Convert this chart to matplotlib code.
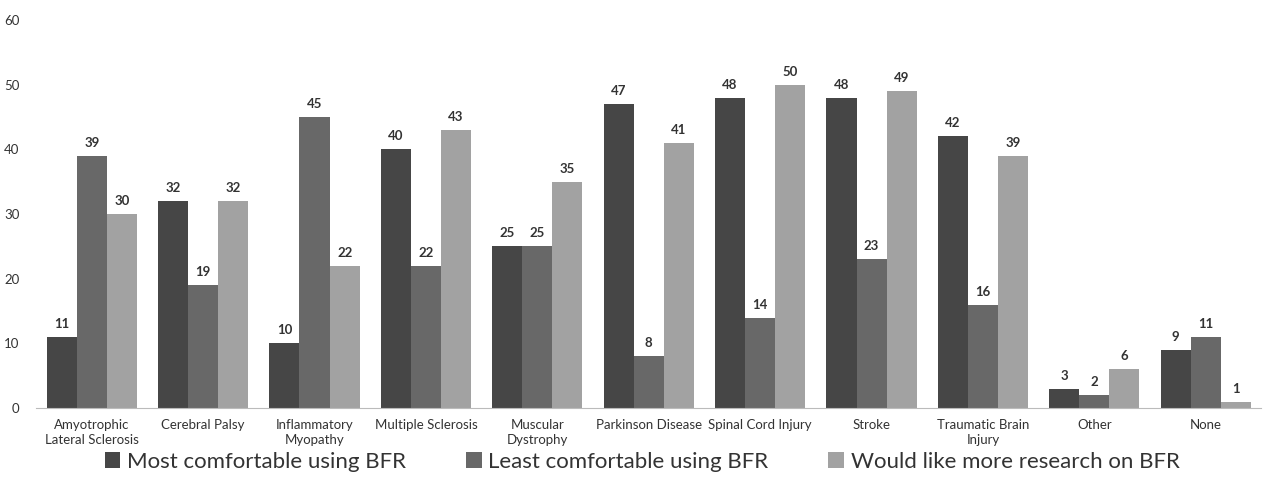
import matplotlib
matplotlib.use('Agg')
import matplotlib.pyplot as plt
import numpy as np

plt.rcParams['font.family'] = ['Lato', 'DejaVu Sans']

# data
categories = ['Amyotrophic\nLateral Sclerosis', 'Cerebral Palsy', 'Inflammatory\nMyopathy',
              'Multiple Sclerosis', 'Muscular\nDystrophy', 'Parkinson Disease',
              'Spinal Cord Injury', 'Stroke', 'Traumatic Brain\nInjury', 'Other', 'None']
most_comfortable = [11, 32, 10, 40, 25, 47, 48, 48, 42, 3, 9]
least_comfortable = [39, 19, 45, 22, 25, 8, 14, 23, 16, 2, 11]
more_research = [30, 32, 22, 43, 35, 41, 50, 49, 39, 6, 1]
series_names = ['Most comfortable using BFR', 'Least comfortable using BFR',
                'Would like more research on BFR']

COLORS = ['#464646', '#686868', '#a2a2a2']
BAR_W = 0.27

fig = plt.figure(figsize=(12.64, 4.94), dpi=100)
ax = fig.add_axes([0.0285, 0.174, 0.9695, 0.7855])

x = np.arange(len(categories))
series = [most_comfortable, least_comfortable, more_research]
for i, (vals, name) in enumerate(zip(series, series_names)):
    bars = ax.bar(x + (i - 1) * BAR_W, vals, BAR_W, color=COLORS[i], label=name)
    ax.bar_label(bars, padding=5, fontsize=9.5, fontweight='bold', color='#333333')

ax.set_ylim(0, 60)
ax.set_yticks(range(0, 61, 10))
ax.set_xlim(-0.5, len(categories) - 0.5)
ax.set_xticks(x)
ax.set_xticklabels(categories, fontsize=9.5, color='#333333', linespacing=1.25)
ax.tick_params(axis='y', length=0, pad=12, labelsize=9.5, labelcolor='#333333')
ax.tick_params(axis='x', length=0, pad=8)

for s in ['top', 'right', 'left']:
    ax.spines[s].set_visible(False)
ax.spines['bottom'].set_color('#bbbbbb')

handles, labels = ax.get_legend_handles_labels()
fig.legend(handles, labels, loc='center', bbox_to_anchor=(0.508, 0.065), ncol=3, frameon=False,
           fontsize=16, handlelength=0.7, handleheight=0.7, handletextpad=0.3,
           columnspacing=2.7, labelcolor='#333333')

fig.savefig('out.png', dpi=100)
